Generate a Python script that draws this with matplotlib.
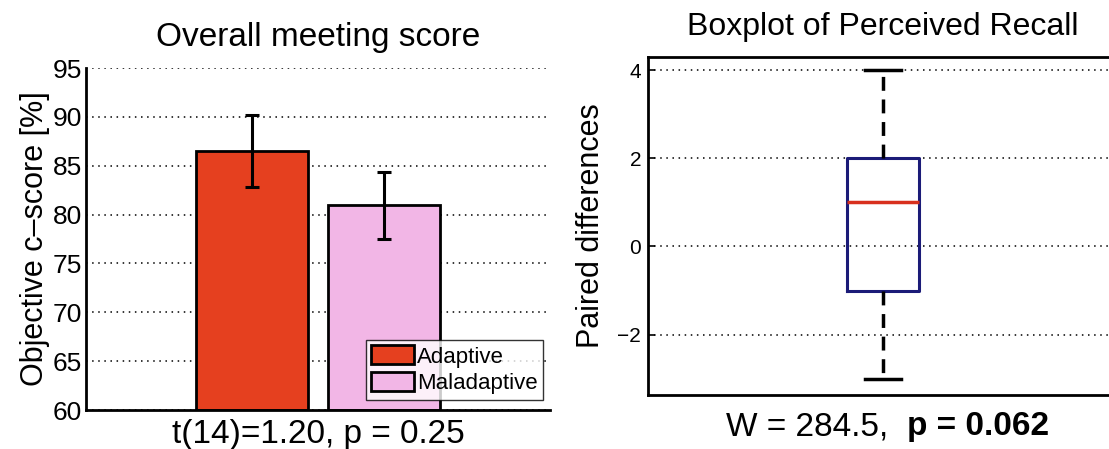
import matplotlib
matplotlib.use("Agg")
import matplotlib.pyplot as plt
from matplotlib.patches import Patch

plt.rcParams['font.family'] = ['Liberation Sans', 'DejaVu Sans']

# ---- data ----
groups = ["Adaptive", "Maladaptive"]
means = [86.5, 81.0]
err_low = [82.8, 77.5]
err_high = [90.2, 84.4]
bar_colors = ["#E5401F", "#F2B6E6"]
yticks_left = [60, 65, 70, 75, 80, 85, 90, 95]

# boxplot summary stats (paired differences)
box_stats = dict(med=1.0, q1=-1.0, q3=2.0, whislo=-3.0, whishi=4.0)
yticks_right = [-2, 0, 2, 4]

left_title = "Overall meeting score"
left_ylabel = "Objective c\u2013score [%]"
left_xlabel = "t(14)=1.20, p = 0.25"
right_title = "Boxplot of Perceived Recall"
right_ylabel = "Paired differences"
right_xlabel_a = "W = 284.5,  "
right_xlabel_b = "p = 0.062"

W, H = 1109, 449
fig = plt.figure(figsize=(W / 100, H / 100), dpi=100)

# ---- left panel ----
ax1 = fig.add_axes([86 / W, 39 / H, 464 / W, 342 / H])
xpos = [1, 2]
ax1.set_axisbelow(True)
ax1.yaxis.grid(True, linestyle=(0, (1, 3)), color='black', linewidth=1.1)
for x, m, c, lo, hi, g in zip(xpos, means, bar_colors, err_low, err_high, groups):
    ax1.bar(x, m - 60, bottom=60, width=0.85, color=c, edgecolor='black',
            linewidth=2, label=g, zorder=2)
    ax1.errorbar(x, m, yerr=[[m - lo], [hi - m]], fmt='none', ecolor='black',
                 elinewidth=2.2, capsize=5, capthick=2.2, zorder=3)
ax1.set_xlim(-0.26, 3.26)
ax1.set_ylim(60, 95)
ax1.set_yticks(yticks_left)
ax1.tick_params(axis='y', labelsize=19, direction='in', length=0, pad=3)
ax1.set_xticks([])
for s in ['top', 'right']:
    ax1.spines[s].set_visible(False)
for s in ['left', 'bottom']:
    ax1.spines[s].set_linewidth(2)
ax1.set_title(left_title, fontsize=24, pad=16)
ax1.set_ylabel(left_ylabel, fontsize=22, labelpad=2)
fig.text(318 / W, 1 - 443 / H, left_xlabel, fontsize=24, ha='center', va='baseline')
handles = [Patch(facecolor=c, edgecolor='black', linewidth=2) for c in bar_colors]
leg = ax1.legend(handles, groups, loc='lower right', bbox_to_anchor=(0.985, 0.03),
                 fontsize=16, frameon=True, fancybox=False, edgecolor='black',
                 handlelength=1.9, handleheight=0.95, handletextpad=0.15,
                 borderpad=0.25, labelspacing=0.2, borderaxespad=0)
leg.get_frame().set_linewidth(1)

# ---- right panel ----
ax2 = fig.add_axes([648 / W, 54 / H, 470 / W, 338 / H])
ax2.yaxis.grid(True, linestyle=(0, (1, 3)), color='black', linewidth=1.1)
ax2.set_axisbelow(True)
stats = [dict(box_stats, label='')]
ax2.bxp(stats, positions=[1], widths=0.155, showfliers=False,
        boxprops=dict(color='#1B1B78', linewidth=2.2),
        medianprops=dict(color='#D8301E', linewidth=2.5),
        whiskerprops=dict(color='black', linewidth=2.5, linestyle=(0, (4, 2.5))),
        capprops=dict(color='black', linewidth=2.5), capwidths=0.077)
ax2.set_xlim(0.5, 1.5)
ax2.set_ylim(-3.37, 4.3)
ax2.set_yticks(yticks_right)
ax2.set_yticklabels(["\u22122", "0", "2", "4"])
ax2.set_xticks([])
ax2.tick_params(axis='y', labelsize=15, direction='in', length=5, width=1.2, pad=5)
for s in ax2.spines.values():
    s.set_linewidth(2)
ax2.set_title(right_title, fontsize=23, pad=16)
ax2.set_ylabel(right_ylabel, fontsize=22, labelpad=8)
fig.text(907 / W, 1 - 427 / H, right_xlabel_a, fontsize=24, ha='right', va='center')
fig.text(907 / W, 1 - 427 / H, right_xlabel_b, fontsize=24, ha='left', va='center',
         fontweight='bold')

fig.savefig("out.png", dpi=100)
